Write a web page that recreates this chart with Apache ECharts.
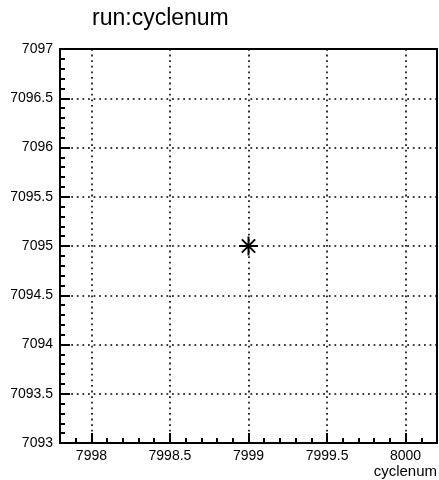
<!DOCTYPE html>
<html>
<head>
<meta charset="utf-8">
<script src="https://cdn.jsdelivr.net/npm/echarts@6/dist/echarts.min.js"></script>
<style>
html,body{margin:0;padding:0;background:#fff;}
#chart{width:439px;height:480px;}
</style>
</head>
<body>
<div id="chart"></div>
<script>
const titleText = 'run:cyclenum';
const xName = 'cyclenum';
const xValues = [7999];
const yValues = [7095];
const xMin = 7997.8, xMax = 8000.2;
const yMin = 7093, yMax = 7097;
const xMajorTicks = [7998, 7998.5, 7999, 7999.5, 8000];
const yMajorTicks = [7093, 7093.5, 7094, 7094.5, 7095, 7095.5, 7096, 7096.5, 7097];

const FONT = 'Liberation Sans, Arial, Helvetica, sans-serif';
const chart = echarts.init(document.getElementById('chart'), null, {renderer: 'canvas'});
const gridLine = {show: true, lineStyle: {color: '#000', width: 1.6, type: [1.8, 3.8]}};

chart.setOption({
  animation: false,
  backgroundColor: '#fff',
  grid: {left: 60, top: 49, right: 2, bottom: 37, show: true, borderColor: '#000', borderWidth: 2, backgroundColor: 'transparent'},
  xAxis: [{
    type: 'value', position: 'bottom', min: xMin, max: xMax,
    axisLine: {show: true, onZero: false, lineStyle: {color: '#000', width: 2}},
    axisTick: {show: true, inside: true, length: 10, customValues: xMajorTicks, lineStyle: {color: '#000', width: 2}},
    axisLabel: {show: true, customValues: xMajorTicks, margin: 6, color: '#000', fontSize: 14, fontFamily: FONT, formatter: v => String(v)},
    splitLine: gridLine
  }, {
    type: 'value', position: 'bottom', min: xMin, max: xMax, interval: 0.1,
    axisLine: {show: false},
    axisTick: {show: true, inside: true, length: 5, lineStyle: {color: '#000', width: 2}},
    axisLabel: {show: false},
    splitLine: {show: false}
  }],
  yAxis: [{
    type: 'value', min: yMin, max: yMax, interval: 0.5,
    axisLine: {show: true, onZero: false, lineStyle: {color: '#000', width: 2}},
    axisTick: {show: true, inside: true, length: 10, customValues: yMajorTicks, lineStyle: {color: '#000', width: 2}},
    minorTick: {show: true, splitNumber: 5, length: 5, lineStyle: {color: '#000', width: 2}},
    axisLabel: {show: true, customValues: yMajorTicks, margin: 7, color: '#000', fontSize: 14, fontFamily: FONT, formatter: v => String(v)},
    splitLine: gridLine
  }],
  graphic: [
    {type: 'text', left: 92, top: 7, style: {text: titleText, fontSize: 23, fontFamily: FONT, fill: '#000'}},
    {type: 'text', right: 2, top: 464, style: {text: xName, fontSize: 15, fontFamily: FONT, fill: '#000'}}
  ],
  series: [{
    type: 'scatter', xAxisIndex: 0, yAxisIndex: 0,
    data: xValues.map((x, i) => [x, yValues[i]]),
    symbol: 'path://M10,0L10,20M0,10L20,10M3,3L17,17M3,17L17,3',
    symbolSize: 19,
    itemStyle: {color: 'rgba(0,0,0,0)', borderColor: '#000', borderWidth: 2, opacity: 1},
    emphasis: {disabled: true}
  }]
});
</script>
</body>
</html>
